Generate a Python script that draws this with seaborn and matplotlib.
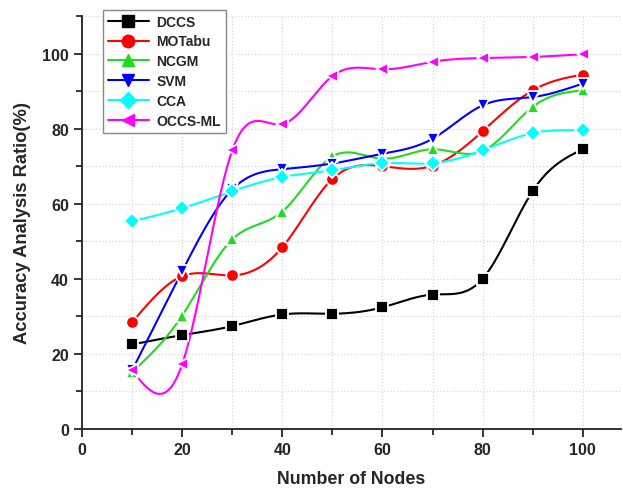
import numpy as np
import pandas as pd
import matplotlib
matplotlib.use('Agg')
import matplotlib.pyplot as plt
from matplotlib.lines import Line2D
import seaborn as sns

# %%
# data
nodes = [10, 20, 30, 40, 50, 60, 70, 80, 90, 100]
dccs = [22.5, 25.0, 27.4, 30.5, 30.7, 32.4, 35.8, 40.0, 63.4, 74.5]
motabu = [28.4, 40.7, 40.9, 48.4, 66.6, 70.0, 70.1, 79.3, 90.2, 94.4]
ncgm = [15.1, 30.2, 50.5, 57.9, 72.6, 72.0, 74.5, 74.0, 85.8, 90.2]
svm = [15.6, 42.0, 63.8, 69.2, 70.7, 73.3, 77.3, 86.2, 88.4, 92.0]
cca = [55.3, 58.8, 63.3, 67.1, 68.9, 70.8, 70.8, 74.2, 78.8, 79.5]
occs_ml = [15.6, 17.2, 74.2, 81.2, 94.0, 95.8, 97.8, 98.8, 99.1, 99.8]

series = ['DCCS', 'MOTabu', 'NCGM', 'SVM', 'CCA', 'OCCS-ML']
values = [dccs, motabu, ncgm, svm, cca, occs_ml]
colors = ['#000000', '#ff0000', '#1edc1e', '#0000ff', '#00ffff', '#ff00ff']
markers = ['s', 'o', '^', 'v', 'D', '<']
msizes = [8, 9, 9, 9, 8, 9]


# %%
# natural cubic spline, only used to draw the connecting curve like Origin does
def spline_curve(x, y, n=300):
    x = np.asarray(x, float)
    y = np.asarray(y, float)
    k = len(x)
    h = np.diff(x)
    A = np.zeros((k, k))
    b = np.zeros(k)
    A[0, 0] = 1
    A[-1, -1] = 1
    for i in range(1, k - 1):
        A[i, i - 1] = h[i - 1]
        A[i, i] = 2 * (h[i - 1] + h[i])
        A[i, i + 1] = h[i]
        b[i] = 6 * ((y[i + 1] - y[i]) / h[i] - (y[i] - y[i - 1]) / h[i - 1])
    M = np.linalg.solve(A, b)
    xs = np.linspace(x[0], x[-1], n)
    idx = np.clip(np.searchsorted(x, xs) - 1, 0, k - 2)
    x0, x1 = x[idx], x[idx + 1]
    hh = x1 - x0
    ys = (M[idx] * (x1 - xs) ** 3 / (6 * hh) + M[idx + 1] * (xs - x0) ** 3 / (6 * hh)
          + (y[idx] / hh - M[idx] * hh / 6) * (x1 - xs)
          + (y[idx + 1] / hh - M[idx + 1] * hh / 6) * (xs - x0))
    return xs, ys


# %%
sns.set_style('ticks')
plt.rcParams['font.family'] = ['Liberation Sans', 'DejaVu Sans']

fig = plt.figure(figsize=(6.23, 4.89), dpi=100)
ax = fig.add_axes([0.1316, 0.1207, 0.865, 0.8446])

for name, vals, c, m, ms in zip(series, values, colors, markers, msizes):
    xs, ys = spline_curve(nodes, vals)
    curve = pd.DataFrame({'x': xs, 'y': ys})
    sns.lineplot(data=curve, x='x', y='y', color=c, lw=1.5, ax=ax, zorder=2)
    ax.plot(nodes, vals, ls='none', marker=m, ms=ms, color=c,
            mec='white', mew=1.3, zorder=3)

ax.set_xlim(0, 107.6)
ax.set_ylim(0, 110)
ax.set_xticks(range(0, 101, 20))
ax.set_xticks(range(10, 101, 20), minor=True)
ax.set_yticks(range(0, 101, 20))
ax.set_yticks(range(10, 111, 20), minor=True)
ax.grid(True, which='both', ls=':', color='#d8d8d8', lw=0.9)
ax.set_axisbelow(True)

for s in ['top', 'right']:
    ax.spines[s].set_visible(False)
for s in ['left', 'bottom']:
    ax.spines[s].set_linewidth(1.3)
    ax.spines[s].set_color('#222222')
ax.tick_params(which='major', length=6, width=1.3, direction='out', labelsize=11.5)
ax.tick_params(which='minor', length=4, width=1.3, direction='out')
for lab in ax.get_xticklabels() + ax.get_yticklabels():
    lab.set_fontweight('bold')

ax.set_xlabel('Number of Nodes', fontsize=12.8, fontweight='bold', labelpad=9)
ax.set_ylabel('Accuracy Analysis Ratio(%)', fontsize=13.2, fontweight='bold', labelpad=8)

handles = [Line2D([], [], color=c, marker=m, ms=ms, lw=1.5, mec=c)
           for c, m, ms in zip(colors, markers, msizes)]
leg = ax.legend(handles, series, loc='upper left', bbox_to_anchor=(0.165, 0.978),
                bbox_transform=fig.transFigure, fancybox=False, framealpha=1,
                edgecolor='#888888', prop={'weight': 'bold', 'size': 10},
                handlelength=3.0, handletextpad=0.5, labelspacing=0.42,
                borderpad=0.35, borderaxespad=0, numpoints=1)
leg.get_frame().set_linewidth(1.0)

plt.savefig('out.png', dpi=100)
